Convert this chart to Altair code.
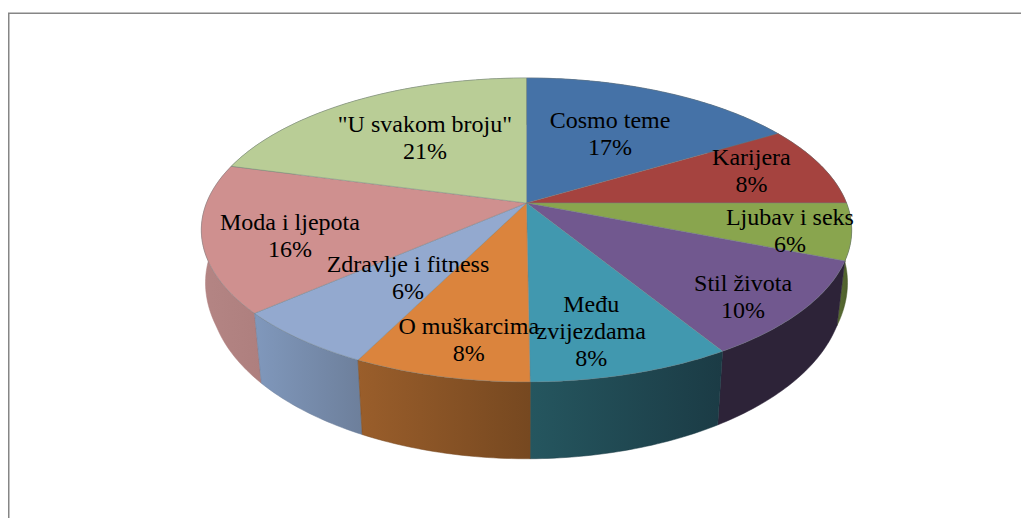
import math
import altair as alt
import pandas as pd

# --- data ---
names = ["Cosmo teme", "Karijera", "Ljubav i seks", "Stil života", "Među\nzvijezdama",
         "O muškarcima", "Zdravlje i fitness", "Moda i ljepota", "\"U svakom broju\""]
shown_percent = [17, 8, 6, 10, 8, 8, 6, 16, 21]
values = [16.4, 8.6, 6.0, 10.3, 8.55, 7.45, 6.2, 15.7, 20.8]

# --- styling ---
top_colors = ["#4572A7", "#A5433F", "#89A54E", "#71588F", "#4198AF",
              "#DB843D", "#93A9CF", "#CF908F", "#B9CD96"]
wall_left = ["#2e4b6e", "#6d2c2a", "#5a6d33", "#2d2338", "#25565f",
             "#9a5e2b", "#8098bc", "#b48584", "#7a8763"]
wall_right = ["#2e4b6e", "#6d2c2a", "#4a5a2a", "#2d2338", "#1b3b45",
              "#764820", "#6d7f9b", "#ae7f7e", "#7a8763"]
label_nudge = [(-3, 2), (45, -9), (71, 12), (59, 33), (6, 34), (-10, 41), (9, -1), (-45, 13), (6, 0)]

W, H = 1013, 510
LINE = 27
CX, CY, RX, RY, K = 526.5, 203, 320, 147.2, 0.1776
DEPTH_X, DEPTH_Y, DEPTH_SHIFT = 0.975, 1.1, 0.4

x_scale = alt.Scale(domain=[(8 - CX) / RX, (8 + W - CX) / RX], nice=False, zero=False)
y_scale = alt.Scale(domain=[(CY - 8 - H) / RY, (CY - 8) / RY], nice=False, zero=False)


def project(fraction, r=1.0):
    a = 2 * math.pi * fraction
    u, v = r * math.sin(a), r * math.cos(a)
    d = 1 + K * v
    return u / d, v / d


def lower(x, y):
    s = max(DEPTH_X, 0.995 + 0.05 * min(y, 0))
    return x * s, y * DEPTH_Y - DEPTH_SHIFT


def closed(points, **style):
    df = pd.DataFrame(points, columns=["x", "y"])
    df["i"] = range(len(df))
    return alt.Chart(df).mark_line(interpolate="linear-closed", **style).encode(
        x=alt.X("x:Q", scale=x_scale, axis=None),
        y=alt.Y("y:Q", scale=y_scale, axis=None),
        order="i:O",
    )


total = sum(values)
starts, acc = [], 0.0
for v in values:
    starts.append(acc / total)
    acc += v

walls, tops, labels = [], [], []
for i, v in enumerate(values):
    f0, f1 = starts[i], starts[i] + v / total
    n = max(4, int(v * 4))
    rim = [project(f0 + (f1 - f0) * j / n) for j in range(n + 1)]
    low = [lower(x, y) for x, y in rim]
    fill = {"gradient": "linear", "x1": 0, "x2": 1, "y1": 0, "y2": 0,
            "stops": [{"offset": 0, "color": wall_left[i]}, {"offset": 1, "color": wall_right[i]}]}
    walls.append(closed(rim + low[::-1], fill=fill, stroke=wall_right[i], strokeWidth=0.5))
    tops.append(closed([(0, 0)] + rim, fill=top_colors[i], stroke="#6f7f80", strokeWidth=0.4))
    mx, my = project((f0 + f1) / 2, 0.6)
    text = f"{names[i]}\n{shown_percent[i]}%"
    extra_lines = text.count("\n")
    labels.append(
        alt.Chart(pd.DataFrame({"x": [mx], "y": [my], "t": [text]}))
        .mark_text(font="Liberation Serif", fontSize=24, color="#000000", lineBreak="\n", lineHeight=LINE,
                   align="center", baseline="middle", dx=label_nudge[i][0],
                   dy=label_nudge[i][1] - extra_lines * LINE / 2)
        .encode(x=alt.X("x:Q", scale=x_scale, axis=None), y=alt.Y("y:Q", scale=y_scale, axis=None), text="t:N")
    )

back_to_front = [8, 0, 1, 2, 7, 3, 6, 4, 5]
frame_left = alt.Chart(pd.DataFrame({"a": [0]})).mark_rule(color="#868686", strokeWidth=2).encode(
    x=alt.value(0.5), y=alt.value(5), y2=alt.value(H))
frame_top = alt.Chart(pd.DataFrame({"a": [0]})).mark_rule(color="#868686", strokeWidth=1.6).encode(
    x=alt.value(0), x2=alt.value(W), y=alt.value(5.3))

layers = [frame_left, frame_top] + [walls[i] for i in back_to_front] + tops + labels
chart = alt.layer(*layers).properties(
    width=W, height=H, padding=0, background="white",
    autosize=alt.AutoSizeParams(type="none"),
).configure_view(stroke=None)
chart.save("out.html", embed_options={"renderer": "svg", "actions": False})
